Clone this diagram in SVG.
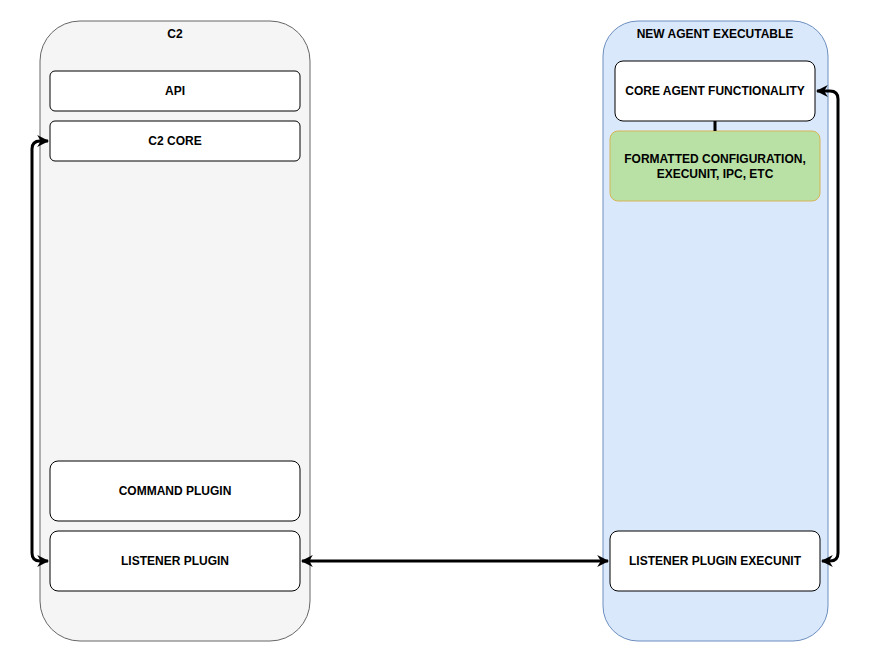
<svg xmlns="http://www.w3.org/2000/svg" width="873" height="664" viewBox="0 0 873 664">
<style>
text{font-family:"Liberation Sans",Arial,sans-serif;font-size:12px;font-weight:bold;fill:#000;text-anchor:middle}
.b{fill:#fff;stroke:#000;stroke-width:1}
.c{fill:none;stroke:#000;stroke-width:3}
</style>
<defs>
<marker id="a" viewBox="0 0 10 10" refX="9" refY="5" markerWidth="4" markerHeight="4" orient="auto-start-reverse" markerUnits="strokeWidth">
<path d="M0,0 L10,5 L0,10 L3,5 Z" fill="#000"/>
</marker>
</defs>
<rect width="873" height="664" fill="#fff"/>
<g id="c2"><rect x="40" y="21" width="270" height="620" rx="40" fill="#f5f5f5" stroke="#666"/><text x="175" y="38">C2</text></g>
<g id="agent"><rect x="603" y="21" width="225" height="620" rx="35" fill="#dae8fc" stroke="#6c8ebf"/><text x="715" y="38">NEW AGENT EXECUTABLE</text></g>
<g id="api"><rect class="b" x="50" y="71" width="250" height="40" rx="5"/><text x="175" y="95">API</text></g>
<g id="c2core"><rect class="b" x="50" y="121" width="250" height="40" rx="5"/><text x="175" y="145">C2 CORE</text></g>
<g id="cmd"><rect class="b" x="50" y="461" width="250" height="60" rx="8"/><text x="175" y="495">COMMAND PLUGIN</text></g>
<g id="lis"><rect class="b" x="50" y="531" width="250" height="60" rx="8"/><text x="175" y="565">LISTENER PLUGIN</text></g>
<g id="core"><rect class="b" x="615" y="61" width="200" height="60" rx="8"/><text x="715" y="95">CORE AGENT FUNCTIONALITY</text></g>
<g id="fmt"><rect x="610" y="131" width="210" height="70" rx="8" fill="#b9e0a5" stroke="#d6b656"/><text x="715" y="163">FORMATTED CONFIGURATION,</text><text x="715" y="178">EXECUNIT, IPC, ETC</text></g>
<g id="lex"><rect class="b" x="610" y="531" width="210" height="60" rx="8"/><text x="715" y="565">LISTENER PLUGIN EXECUNIT</text></g>
<g id="connectors">
<path class="c" d="M715,121 V131"/>
<path class="c" d="M48,561 H40 Q32,561 32,553 V149 Q32,141 40,141 H48" marker-start="url(#a)" marker-end="url(#a)"/>
<path class="c" d="M302,561 H608" marker-start="url(#a)" marker-end="url(#a)"/>
<path class="c" d="M822,561 H830 Q838,561 838,553 V99 Q838,91 830,91 H817" marker-start="url(#a)" marker-end="url(#a)"/>
</g>
</svg>
